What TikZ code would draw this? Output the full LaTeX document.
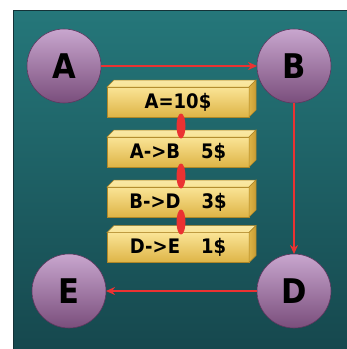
\documentclass[tikz,border=0pt]{standalone}
\usepackage{fontspec}
\setmainfont{DejaVu Sans}
\newfontfamily\condfont{DejaVu Sans Condensed}
\usetikzlibrary{shapes.geometric,arrows.meta}
\definecolor{bgtop}{RGB}{37,119,122}
\definecolor{bgbot}{RGB}{22,72,78}
\definecolor{bgedge}{RGB}{20,50,55}
\definecolor{cirtop}{RGB}{200,166,206}
\definecolor{cirbot}{RGB}{122,78,124}
\definecolor{ciredge}{RGB}{95,55,95}
\definecolor{goldtop}{RGB}{250,228,150}
\definecolor{goldbot}{RGB}{222,180,70}
\definecolor{goldlight}{RGB}{248,232,165}
\definecolor{golddark}{RGB}{200,155,50}
\definecolor{goldedge}{RGB}{175,135,40}
\definecolor{myred}{RGB}{235,50,50}
\tikzset{
  vertex/.style={circle, minimum size=74pt, inner sep=0pt, outer sep=0pt,
    top color=cirtop, bottom color=cirbot, draw=ciredge, line width=0.6pt,
    font=\condfont\bfseries\fontsize{34}{36}\selectfont},
  goldbox/.style={rectangle, minimum width=142pt, minimum height=30pt, inner sep=0pt,
    outer sep=0pt, top color=goldtop, bottom color=goldbot, draw=goldedge, line width=0.5pt},
  boxtext/.style={font=\condfont\bfseries\fontsize{20}{22}\selectfont, inner sep=0pt},
  topface/.style={top color=goldlight, bottom color=goldtop, draw=goldedge, line width=0.5pt},
  sideface/.style={left color=goldbot, right color=golddark, draw=goldedge, line width=0.5pt},
  link/.style={ellipse, minimum width=9pt, minimum height=25pt, inner sep=0pt, fill=myred, draw=none},
  redarrow/.style={draw=myred, line width=1.6pt, -{Stealth[length=9pt,width=8pt]}}
}
\begin{document}
\begin{tikzpicture}[x=1pt,y=-1pt]
\useasboundingbox (0,0) rectangle (347,349);
\shade[top color=bgtop, bottom color=bgbot] (13,10) rectangle (347,349);
\draw[bgedge, line width=0.8pt] (13,349) -- (13,10) -- (347,10);

\node[vertex] (A) at (64,66) {A};
\node[vertex] (B) at (294,66) {B};
\node[vertex] (D) at (294,291) {D};
\node[vertex] (E) at (69,291) {E};

\draw[redarrow] (A) -- (B);
\draw[redarrow] (B) -- (D);
\draw[redarrow] (D) -- (E);

\foreach \nm/\yy/\tx in {b1/102/{A=10\$}, b2/152/{A->B\hspace{1.05em}5\$}, b3/202/{B->D\hspace{1.05em}3\$}, b4/247.5/{D->E\hspace{1.05em}1\$}}{
  \node[goldbox] (\nm) at (178,\yy) {};
  \shade[topface] (\nm.north west) -- ++(7,-7) -- ([xshift=7pt,yshift=7pt]\nm.north east) -- (\nm.north east) -- cycle;
  \shade[sideface] (\nm.north east) -- ++(7,-7) -- ([xshift=7pt,yshift=7pt]\nm.south east) -- (\nm.south east) -- cycle;
  \node[boxtext] at (\nm.center) {\tx};
}

\node[link] (l1) at (181,126) {};
\node[link] (l2) at (181,176) {};
\node[link] (l3) at (181,222) {};
\end{tikzpicture}
\end{document}
